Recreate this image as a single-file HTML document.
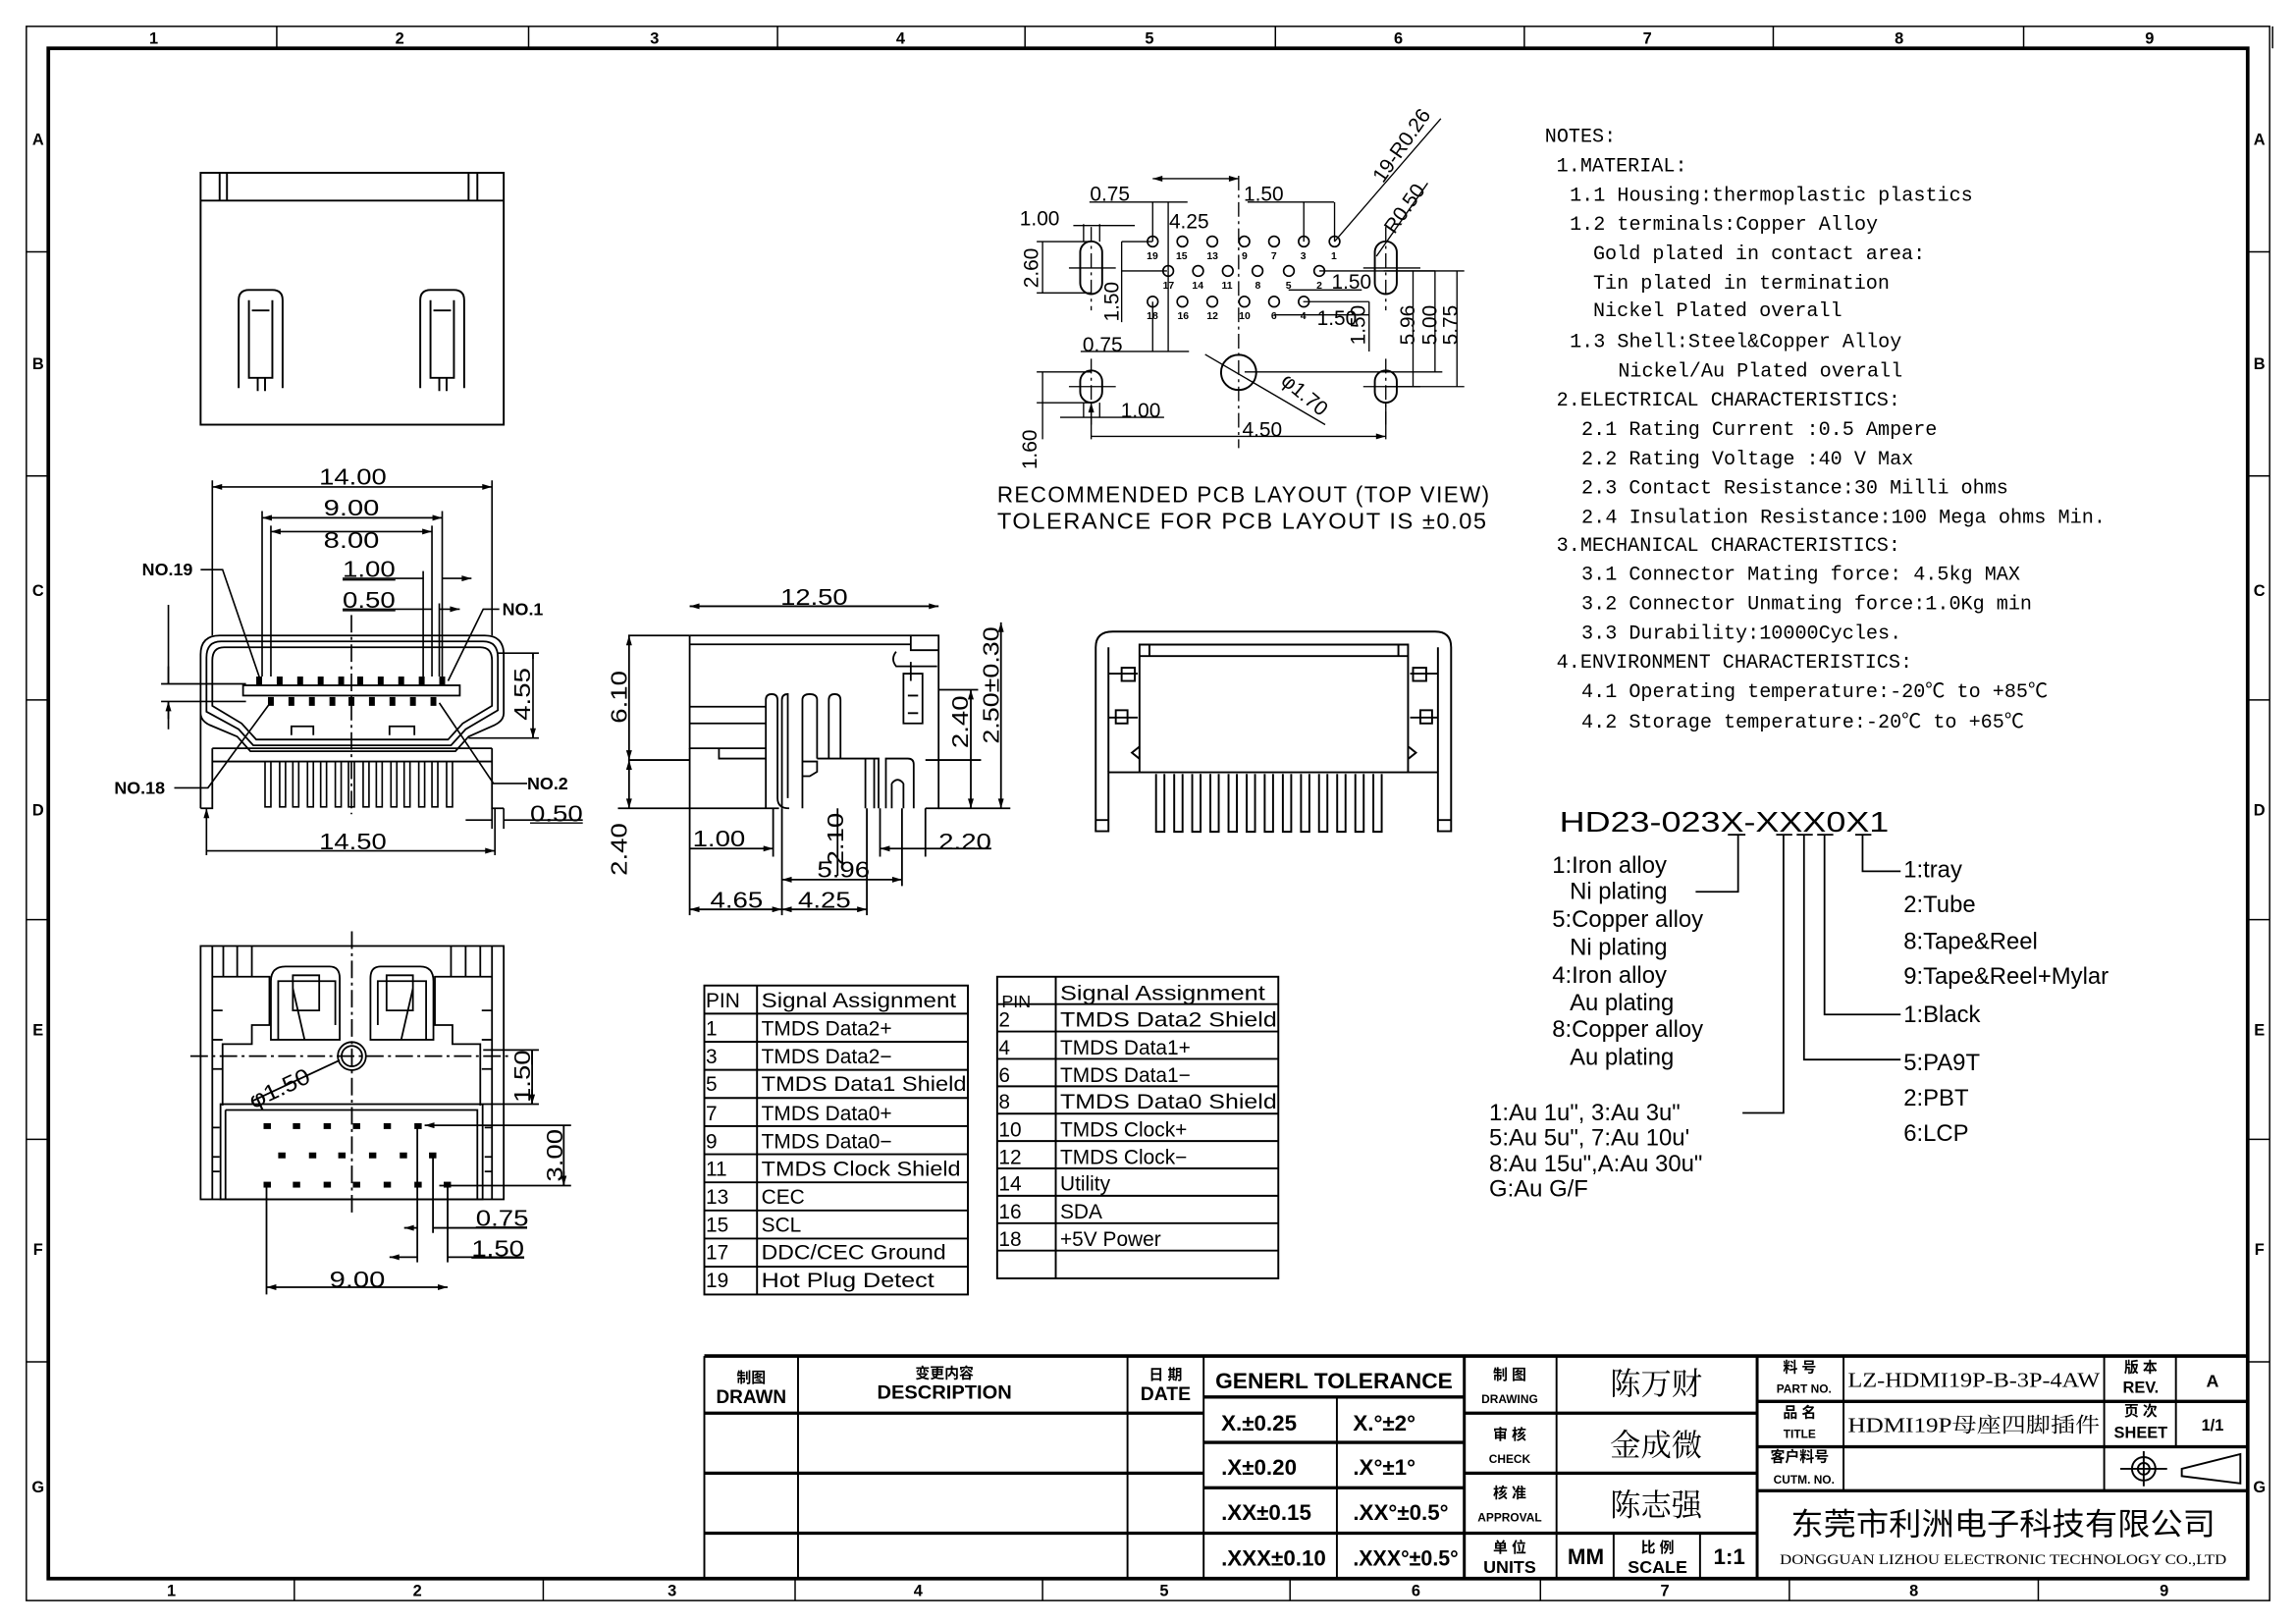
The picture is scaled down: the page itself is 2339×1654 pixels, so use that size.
<!DOCTYPE html>
<html><head><meta charset="utf-8"><style>
html,body{margin:0;padding:0;background:#fff}
svg{display:block}
text{font-family:"Liberation Sans","Noto Sans CJK SC",sans-serif;fill:#000}
.m text{font-family:"Liberation Mono","Noto Sans CJK SC",monospace;font-size:13.5px}
.d{font-size:15.5px}
.t{font-size:14px}
</style></head><body>
<svg width="2339" height="1654" viewBox="0 0 1568 1109" preserveAspectRatio="none" xmlns="http://www.w3.org/2000/svg">
<defs>
<marker id="a" viewBox="0 0 10 6" refX="10" refY="3" markerWidth="8" markerHeight="4" orient="auto-start-reverse" markerUnits="userSpaceOnUse"><path d="M0,0 L10,3 L0,6 z" fill="#000"/></marker>
</defs>
<g fill="none" stroke="#000" stroke-width="1">
<rect x="18" y="18" width="1532" height="1075"/>
<rect x="33" y="33" width="1502" height="1045" stroke-width="2.5"/>
<path d="M189,18V33M361,18V33M531,18V33M700,18V33M871,18V33M1041,18V33M1211,18V33M1382,18V33M1552,18V33"/>
<path d="M201,1078V1093M371,1078V1093M543,1078V1093M712,1078V1093M881,1078V1093M1052,1078V1093M1222,1078V1093M1392,1078V1093"/>
<path d="M18,172H33M18,325H33M18,478H33M18,628H33M18,778H33M18,930H33M1535,172H1550M1535,325H1550M1535,478H1550M1535,628H1550M1535,778H1550M1535,930H1550"/>
</g>
<g font-size="11" font-weight="bold" text-anchor="middle">
<text x="105" y="30">1</text><text x="273" y="30">2</text><text x="447" y="30">3</text><text x="615" y="30">4</text><text x="785" y="30">5</text><text x="955" y="30">6</text><text x="1125" y="30">7</text><text x="1297" y="30">8</text><text x="1468" y="30">9</text>
<text x="117" y="1090">1</text><text x="285" y="1090">2</text><text x="459" y="1090">3</text><text x="627" y="1090">4</text><text x="795" y="1090">5</text><text x="967" y="1090">6</text><text x="1137" y="1090">7</text><text x="1307" y="1090">8</text><text x="1478" y="1090">9</text>
<text x="26" y="99">A</text><text x="26" y="252">B</text><text x="26" y="407">C</text><text x="26" y="557">D</text><text x="26" y="707">E</text><text x="26" y="857">F</text><text x="26" y="1019">G</text>
<text x="1543" y="99">A</text><text x="1543" y="252">B</text><text x="1543" y="407">C</text><text x="1543" y="557">D</text><text x="1543" y="707">E</text><text x="1543" y="857">F</text><text x="1543" y="1019">G</text>
</g>

<!-- TOP VIEW -->
<g fill="none" stroke="#000" stroke-width="1.3">
<rect x="137" y="118" width="207" height="172"/>
<path d="M137,137H344M155,118V137M320,118V137M150,118V137M326,118V137"/>
<path d="M163,265V205Q163,198 170,198H186Q193,198 193,205V265M170,205V258H186V205M172,212H184M176,258V267M181,258V267"/>
<path d="M287,265V205Q287,198 294,198H310Q317,198 317,205V265M294,205V258H310V205M296,212H308M300,258V267M305,258V267"/>
</g>

<!-- FRONT VIEW -->
<g fill="none" stroke="#000" stroke-width="1.2">
<path d="M137,552V447Q137,434 150,434H331Q344,434 344,447V487Q344,492 338,495L320,503L311,513H171L162,503L143,495Q137,492 137,487"/>
<path d="M141,486V449Q141,438 151,438H330Q340,438 340,449V485L318,498L308,509H173L163,498Z"/>
<path d="M145,482V451Q145,442 153,442H328Q336,442 336,451V482L316,494L306,505H175L165,494Z"/>
<path d="M137,552H145V511M344,552H336V511M145,511H336M145,520H336"/>
<rect x="166" y="468" width="148" height="7"/>
<path d="M199,502V496H214V502M266,502V496H283V502"/>
</g>
<g fill="#000">
<rect x="175" y="462" width="4" height="6"/><rect x="189" y="462" width="4" height="6"/><rect x="203" y="462" width="4" height="6"/><rect x="217" y="462" width="4" height="6"/><rect x="231" y="462" width="4" height="6"/><rect x="244" y="462" width="4" height="6"/><rect x="258" y="462" width="4" height="6"/><rect x="272" y="462" width="4" height="6"/><rect x="286" y="462" width="4" height="6"/><rect x="300" y="462" width="4" height="6"/>
<rect x="183" y="476" width="4" height="6"/><rect x="197" y="476" width="4" height="6"/><rect x="211" y="476" width="4" height="6"/><rect x="225" y="476" width="4" height="6"/><rect x="238" y="476" width="4" height="6"/><rect x="252" y="476" width="4" height="6"/><rect x="266" y="476" width="4" height="6"/><rect x="280" y="476" width="4" height="6"/><rect x="294" y="476" width="4" height="6"/>
</g>
<g fill="none" stroke="#000" stroke-width="1.1">
<path d="M181,520V551H185V520M191,520V551H195V520M200,520V551H204V520M210,520V551H214V520M219,520V551H223V520M229,520V551H233V520M238,520V551H242V520M248,520V551H252V520M257,520V551H261V520M267,520V551H271V520M276,520V551H280V520M286,520V551H290V520M295,520V551H299V520M305,520V551H309V520"/>
<path d="M240,420V556" stroke-dasharray="12,3,2,3"/>
<path d="M145,434V328M336,434V328M179,462V349M302,462V349M185,462V359M295,462V359M289,462V390M302,462V390M295,462V412M300,462V412"/>
<path d="M145,332.5H336" marker-start="url(#a)" marker-end="url(#a)"/>
<path d="M179,353.6H302" marker-start="url(#a)" marker-end="url(#a)"/>
<path d="M185,363H295" marker-start="url(#a)" marker-end="url(#a)"/>
<path d="M234,395H289M302,395H322" marker-end="url(#a)"/>
<path d="M234,416H295M300,416H314" marker-end="url(#a)"/>
<path d="M340,446H368M320,504H368M364,446V504" />
<path d="M364,450V446M364,500V504" marker-end="url(#a)"/>
<path d="M110,467H168M110,479H168M115,413V467M115,479V498" />
<path d="M115,455V467M115,491V479" marker-end="url(#a)"/>
<path d="M141,552V584M338,552V584M141,581H338" marker-start="url(#a)" marker-end="url(#a)"/>
<path d="M318,560H336M344,560H398M336,552V566M344,552V566"/>
<path d="M137,389H152L178,465M341,416H330L306,465M119,538H142L186,478M360,535H337L300,480"/>
</g>
<g class="d" text-anchor="middle">
<text x="241" y="331" textLength="46" lengthAdjust="spacingAndGlyphs">14.00</text>
<text x="240" y="352" textLength="38" lengthAdjust="spacingAndGlyphs">9.00</text>
<text x="240" y="374" textLength="38" lengthAdjust="spacingAndGlyphs">8.00</text>
<text x="252" y="394" textLength="36" lengthAdjust="spacingAndGlyphs">1.00</text>
<text x="252" y="415" textLength="36" lengthAdjust="spacingAndGlyphs">0.50</text>
<text x="241" y="580" textLength="46" lengthAdjust="spacingAndGlyphs">14.50</text>
<text x="380" y="561" textLength="36" lengthAdjust="spacingAndGlyphs">0.50</text>
<text transform="translate(362,474) rotate(-90)" textLength="36" lengthAdjust="spacingAndGlyphs">4.55</text>
</g>
<path d="M234,396H270M234,417H270M362,562H398" stroke="#000"/>
<g font-size="12" font-weight="bold">
<text x="97" y="393">NO.19</text><text x="343" y="420">NO.1</text><text x="78" y="542">NO.18</text><text x="360" y="539">NO.2</text>
</g>

<!-- SIDE VIEW -->
<g fill="none" stroke="#000" stroke-width="1.2">
<path d="M471,434H641V552H632M471,434V511H523M471,440H622M622,434V444H641"/>
<path d="M471,482.6H523M471,494H523M491,511V518H523"/>
<path d="M523,552V478Q523,474 527,474Q531,474 531,478V545Q531,552 539,552"/>
<path d="M534,552V478Q534,474 538,474V545M548,552V478Q548,474 553,474Q558,474 558,478V518M566,518V478Q566,474 570,474Q574,474 574,478V518"/>
<path d="M548,520H558V527L553,530H548M558,518H600V552M605,552V518H620Q624,518 624,522V552M591,518V552M597,518V552"/>
<path d="M609,535V552M617,535V552M609,535Q613,530 617,535"/>
<path d="M622,452V465M617,460H630V494H617ZM620,475H627M620,487H627M612,445Q608,450 612,455H640"/>
<path d="M429,434H471M429,519H471M422,552H532M641,471H668M641,552H690M632,519H670"/>
<path d="M471,414H641" marker-start="url(#a)" marker-end="url(#a)"/>
<path d="M429.6,434V519" marker-start="url(#a)" marker-end="url(#a)"/>
<path d="M429.6,519V552" marker-start="url(#a)" marker-end="url(#a)"/>
<path d="M663,471V552" marker-start="url(#a)" marker-end="url(#a)"/>
<path d="M683.6,425V552" marker-start="url(#a)" marker-end="url(#a)"/>
<path d="M471,511V625M534,552V625M592,552V625M528,552V585M616,552V605M601,552V585M632,552V585"/>
<path d="M471,579.5H528" marker-end="url(#a)"/>
<path d="M534,600.7H616" marker-start="url(#a)" marker-end="url(#a)"/>
<path d="M471,621H534" marker-start="url(#a)" marker-end="url(#a)"/>
<path d="M534,621H592" marker-start="url(#a)" marker-end="url(#a)"/>
<path d="M601,579.5H632M632,579.5H677" marker-start="url(#a)"/>
<path d="M572,552V598" />
</g>
<g class="d" text-anchor="middle">
<text x="556" y="413" textLength="46" lengthAdjust="spacingAndGlyphs">12.50</text>
<text x="491" y="578" textLength="36" lengthAdjust="spacingAndGlyphs">1.00</text>
<text x="576" y="599" textLength="36" lengthAdjust="spacingAndGlyphs">5.96</text>
<text x="503" y="620" textLength="36" lengthAdjust="spacingAndGlyphs">4.65</text>
<text x="563" y="620" textLength="36" lengthAdjust="spacingAndGlyphs">4.25</text>
<text x="659" y="580" textLength="36" lengthAdjust="spacingAndGlyphs">2.20</text>
<text transform="translate(428,476) rotate(-90)" textLength="36" lengthAdjust="spacingAndGlyphs">6.10</text>
<text transform="translate(428,580) rotate(-90)" textLength="36" lengthAdjust="spacingAndGlyphs">2.40</text>
<text transform="translate(576,573) rotate(-90)" textLength="36" lengthAdjust="spacingAndGlyphs">2.10</text>
<text transform="translate(661,493) rotate(-90)" textLength="36" lengthAdjust="spacingAndGlyphs">2.40</text>
<text transform="translate(682,468) rotate(-90)" textLength="80" lengthAdjust="spacingAndGlyphs">2.50±0.30</text>
</g>

<!-- BACK VIEW (right) -->
<g fill="none" stroke="#000" stroke-width="1.3">
<path d="M748.3,567.6V442Q748.3,431.3 760,431.3H980Q991,431.3 991,442V567.6H982V527.4H757V567.6Z"/>
<path d="M778.2,527.4V440.2H961.6V527.4M778,448H962M785,440V448M955,440V448"/>
<path d="M757,527V442M982,527V442M757,460H777M757,490H777M963,460H982M963,490H982"/>
<rect x="766" y="456" width="9" height="9"/><rect x="965" y="456" width="9" height="9"/>
<rect x="762" y="485" width="8" height="9"/><rect x="970" y="485" width="8" height="9"/>
<path d="M778,518L773,514L778,510M962,518L967,514L962,510M748,560H757M982,560H991"/>
<path d="M789.5,528.5V568h5.7V528.5M801.9,528.5V568h5.7V528.5M814.2,528.5V568h5.7V528.5M826.6,528.5V568h5.7V528.5M839,528.5V568h5.7V528.5M851.4,528.5V568h5.7V528.5M863.7,528.5V568h5.7V528.5M876.1,528.5V568h5.7V528.5M888.5,528.5V568h5.7V528.5M900.8,528.5V568h5.7V528.5M913.2,528.5V568h5.7V528.5M925.6,528.5V568h5.7V528.5M937.9,528.5V568h5.7V528.5"/>
</g>

<!-- REAR VIEW (bottom-left) -->
<g fill="none" stroke="#000" stroke-width="1.2">
<rect x="137" y="646" width="207" height="173"/>
<path d="M145,646V819M152.5,646V667M162,646V667M172,646V667M308,646V667M318,646V667M328,646V667M336,646V819"/>
<path d="M145,667H184V700H172V713H152V755M336,667H297V700H309V713H328V755"/>
<path d="M145,690H152M145,710H152M145,730H152M145,770H150M145,790H150M145,800H150M336,690H329M336,710H329M336,730H329M336,770H331M336,790H331M336,800H331"/>
<path d="M185,710V670Q185,660 195,660H225Q232,660 232,668V710ZM190,710V670H229V700M253,710V668Q253,660 260,660H287Q296,660 296,670V710ZM258,700V670H291V710"/>
<path d="M200,666H218V690H200ZM264,666H282V690H264Z"/>
<path d="M200,675L208,710M282,675L274,710"/>
<rect x="150.6" y="754" width="179" height="65"/>
<path d="M154,758H326V819M154,758V819"/>
<circle cx="240.3" cy="721.2" r="9.6"/><circle cx="240.3" cy="721.2" r="7"/>
<path d="M240.3,636V830M130,721.2H350" stroke-dasharray="12,3,2,3"/>
<path d="M330,717H368M330,754H368M363.4,717V754" />
<path d="M363.4,727V717M363.4,744V754" marker-end="url(#a)"/>
<path d="M290,768.5H390M300,809.6H390M385,768.5V809.6" marker-start="url(#a)"/>
<path d="M385,800V809.6" marker-end="url(#a)"/>
<path d="M182,809.6V884M295.7,789V842M285,769V862M305.7,809.6V862"/>
<path d="M276,838.5H285M295.7,838.5H360" marker-start="url(#a)"/>
<path d="M266,858.5H285M305.7,858.5H358" marker-start="url(#a)"/>
<path d="M182,879H305.7" marker-start="url(#a)" marker-end="url(#a)"/>
<path d="M172,752L232,724"/>
</g>
<g fill="#000">
<rect x="180" y="767" width="5" height="4"/><rect x="200" y="767" width="5" height="4"/><rect x="221" y="767" width="5" height="4"/><rect x="241" y="767" width="5" height="4"/><rect x="262" y="767" width="5" height="4"/><rect x="283" y="767" width="5" height="4"/>
<rect x="190" y="787" width="5" height="4"/><rect x="211" y="787" width="5" height="4"/><rect x="231" y="787" width="5" height="4"/><rect x="252" y="787" width="5" height="4"/><rect x="273" y="787" width="5" height="4"/><rect x="293" y="787" width="5" height="4"/>
<rect x="180" y="807" width="5" height="4"/><rect x="200" y="807" width="5" height="4"/><rect x="221" y="807" width="5" height="4"/><rect x="241" y="807" width="5" height="4"/><rect x="262" y="807" width="5" height="4"/><rect x="283" y="807" width="5" height="4"/><rect x="303" y="807" width="5" height="4"/>
</g>
<g class="d" text-anchor="middle">
<text x="343" y="837" textLength="36" lengthAdjust="spacingAndGlyphs">0.75</text>
<text x="340" y="858" textLength="36" lengthAdjust="spacingAndGlyphs">1.50</text>
<text x="244" y="879" textLength="38" lengthAdjust="spacingAndGlyphs">9.00</text>
<text transform="translate(362,735) rotate(-90)" textLength="36" lengthAdjust="spacingAndGlyphs">1.50</text>
<text transform="translate(384,789) rotate(-90)" textLength="36" lengthAdjust="spacingAndGlyphs">3.00</text>
<text transform="translate(193,748) rotate(-25)" textLength="44" lengthAdjust="spacingAndGlyphs">φ1.50</text>
</g>
<path d="M325,838H360M322,859H358" stroke="#000"/>

<!-- PCB LAYOUT -->
<g fill="none" stroke="#000" stroke-width="1.3">
<rect x="737.7" y="164.8" width="15" height="36" rx="7.5"/>
<rect x="938.9" y="164.8" width="15" height="36" rx="7.5"/>
<rect x="737.7" y="253" width="15" height="22" rx="7.5"/>
<rect x="938.9" y="253" width="15" height="22" rx="7.5"/>
<circle cx="845.9" cy="254.3" r="12"/>
<g stroke-width="1.1">
<circle cx="787.2" cy="164.9" r="3.6"/><circle cx="807.5" cy="164.9" r="3.6"/><circle cx="827.9" cy="164.9" r="3.6"/><circle cx="849.8" cy="164.9" r="3.6"/><circle cx="870.1" cy="164.9" r="3.6"/><circle cx="890.4" cy="164.9" r="3.6"/><circle cx="911.4" cy="164.9" r="3.6"/>
<circle cx="797.8" cy="185" r="3.6"/><circle cx="818.2" cy="185" r="3.6"/><circle cx="838.5" cy="185" r="3.6"/><circle cx="858.8" cy="185" r="3.6"/><circle cx="880.2" cy="185" r="3.6"/><circle cx="901" cy="185" r="3.6"/>
<circle cx="787.2" cy="206" r="3.6"/><circle cx="807.5" cy="206" r="3.6"/><circle cx="827.9" cy="206" r="3.6"/><circle cx="849.8" cy="206" r="3.6"/><circle cx="870.1" cy="206" r="3.6"/><circle cx="890.4" cy="206" r="3.6"/>
</g>
<path d="M845.9,120V306M745.2,155V212M946.4,155V212M745.2,245V290M946.4,245V290" stroke-dasharray="10,3,2,3" stroke-width="0.9"/>
<path d="M730,183H762M931,183H970M730,264H762M931,264H970" stroke-width="0.9"/>
<path d="M708,165H745M708,200H745M712,165V200" stroke-width="0.9"/>
<path d="M733,154H775M740,153V165M751,153V165" stroke-width="0.9"/>
<path d="M744,138H811M787.2,138V165M797.8,138V185" stroke-width="0.9"/>
<path d="M787.2,122H845.9" marker-start="url(#a)" marker-end="url(#a)" stroke-width="0.9"/>
<path d="M852,138H911M890.4,138V165M911.4,138V165" stroke-width="0.9"/>
<path d="M766,165H787M766,185H797M766,165V220" stroke-width="0.9"/>
<path d="M738,240H812M787.2,206V240M797.8,185V240" stroke-width="0.9"/>
<path d="M880,198H930M901,185H980M890,206H935M870,215H935M935,206V240" stroke-width="0.9"/>
<path d="M945,185H1000M850,254H985M946,264H1000M965,185V264M980,185V254M995,185V264" stroke-width="0.9"/>
<path d="M708,254H745M708,275H745M712,254V300M740,275V285M751,275V285M724,285H795" stroke-width="0.9"/>
<path d="M745.2,275V300M946.4,275V300M745.2,298H946.4" marker-start="url(#a)" marker-end="url(#a)" stroke-width="0.9"/>
<path d="M911.4,164.9L984,81M940,175L975,125M823,242L905,290" stroke-width="0.9"/>
</g>
<g font-size="7" font-weight="bold" text-anchor="middle">
<text x="787" y="177">19</text><text x="807" y="177">15</text><text x="828" y="177">13</text><text x="850" y="177">9</text><text x="870" y="177">7</text><text x="890" y="177">3</text><text x="911" y="177">1</text>
<text x="798" y="197">17</text><text x="818" y="197">14</text><text x="838" y="197">11</text><text x="859" y="197">8</text><text x="880" y="197">5</text><text x="901" y="197">2</text>
<text x="787" y="218">18</text><text x="808" y="218">16</text><text x="828" y="218">12</text><text x="850" y="218">10</text><text x="870" y="218">6</text><text x="890" y="218">4</text>
</g>
<g class="t" text-anchor="middle">
<text x="758" y="137">0.75</text><text x="863" y="137">1.50</text><text x="812" y="156">4.25</text><text x="710" y="154">1.00</text>
<text x="923" y="197">1.50</text><text x="913" y="222">1.50</text><text x="753" y="240">0.75</text><text x="779" y="285">1.00</text><text x="862" y="298">4.50</text>
<text transform="translate(709,183) rotate(-90)">2.60</text>
<text transform="translate(764,206) rotate(-90)">1.50</text>
<text transform="translate(932,222) rotate(-90)">1.50</text>
<text transform="translate(966,222) rotate(-90)">5.96</text>
<text transform="translate(981,222) rotate(-90)">5.00</text>
<text transform="translate(995,222) rotate(-90)">5.75</text>
<text transform="translate(708,307) rotate(-90)">1.60</text>
<text transform="translate(888,273) rotate(40)">φ1.70</text>
<text transform="translate(961,102) rotate(-55)">19-R0.26</text>
<text transform="translate(963,145) rotate(-55)">R0.50</text>
</g>
<g font-size="15.5" letter-spacing="1">
<text x="681" y="343" textLength="337" lengthAdjust="spacingAndGlyphs">RECOMMENDED PCB LAYOUT (TOP VIEW)</text>
<text x="681" y="361" textLength="335" lengthAdjust="spacingAndGlyphs">TOLERANCE FOR PCB LAYOUT IS ±0.05</text>
</g>

<!-- NOTES -->
<g class="m">
<text x="1055" y="97">NOTES:</text>
<text x="1063" y="117">1.MATERIAL:</text>
<text x="1072" y="137">1.1 Housing:thermoplastic plastics</text>
<text x="1072" y="157">1.2 terminals:Copper Alloy</text>
<text x="1088" y="177">Gold plated in contact area:</text>
<text x="1088" y="197">Tin plated in termination</text>
<text x="1088" y="216">Nickel Plated overall</text>
<text x="1072" y="237">1.3 Shell:Steel&amp;Copper Alloy</text>
<text x="1105" y="257">Nickel/Au Plated overall</text>
<text x="1063" y="277">2.ELECTRICAL CHARACTERISTICS:</text>
<text x="1080" y="297">2.1 Rating Current :0.5 Ampere</text>
<text x="1080" y="317">2.2 Rating Voltage :40 V Max</text>
<text x="1080" y="337">2.3 Contact Resistance:30 Milli ohms</text>
<text x="1080" y="357" textLength="358" lengthAdjust="spacingAndGlyphs">2.4 Insulation Resistance:100 Mega ohms Min.</text>
<text x="1063" y="376">3.MECHANICAL CHARACTERISTICS:</text>
<text x="1080" y="396">3.1 Connector Mating force: 4.5kg MAX</text>
<text x="1080" y="416">3.2 Connector Unmating force:1.0Kg min</text>
<text x="1080" y="436">3.3 Durability:10000Cycles.</text>
<text x="1063" y="456">4.ENVIRONMENT CHARACTERISTICS:</text>
<text x="1080" y="476">4.1 Operating temperature:-20℃ to +85℃</text>
<text x="1080" y="497">4.2 Storage temperature:-20℃ to +65℃</text>
</g>

<!-- PART NUMBER -->
<text x="1065" y="568" font-size="19" textLength="225" lengthAdjust="spacingAndGlyphs">HD23-023X-XXX0X1</text>
<g fill="none" stroke="#000" stroke-width="1.2">
<path d="M1180,570H1192M1213,570H1224M1227,570H1238M1241,570H1252M1267,570H1278"/>
<path d="M1187,570V609H1158M1218,570V760H1190M1232,570V723.6H1298M1246,570V692.8H1298M1272,570V595H1298"/>
</g>
<g font-size="16">
<text x="1060" y="596">1:Iron alloy</text><text x="1072" y="614">Ni plating</text>
<text x="1060" y="633">5:Copper alloy</text><text x="1072" y="652">Ni plating</text>
<text x="1060" y="671">4:Iron alloy</text><text x="1072" y="690">Au plating</text>
<text x="1060" y="708">8:Copper alloy</text><text x="1072" y="727">Au plating</text>
<text x="1017" y="765">1:Au 1u", 3:Au 3u"</text>
<text x="1017" y="782">5:Au 5u", 7:Au 10u'</text>
<text x="1017" y="800">8:Au 15u",A:Au 30u"</text>
<text x="1017" y="817">G:Au G/F</text>
<text x="1300" y="599">1:tray</text><text x="1300" y="623">2:Tube</text><text x="1300" y="648">8:Tape&amp;Reel</text><text x="1300" y="672">9:Tape&amp;Reel+Mylar</text>
<text x="1300" y="698">1:Black</text><text x="1300" y="731">5:PA9T</text><text x="1300" y="755">2:PBT</text><text x="1300" y="779">6:LCP</text>
</g>

<!-- TABLES -->
<g fill="none" stroke="#000" stroke-width="1.3">
<rect x="481" y="673" width="180" height="211"/>
<path d="M517,673V884M481,692.2H661M481,711.4H661M481,730.6H661M481,749.8H661M481,769H661M481,788.2H661M481,807.4H661M481,826.6H661M481,845.8H661M481,865H661"/>
<rect x="681" y="667" width="192" height="206"/>
<path d="M721,667V873M681,685.7H873M681,704.4H873M681,723.1H873M681,741.8H873M681,760.5H873M681,779.2H873M681,797.9H873M681,816.6H873M681,835.3H873M681,854H873"/>
</g>
<g font-size="14">
<text x="482" y="688">PIN</text><text x="520" y="688" textLength="133" lengthAdjust="spacingAndGlyphs">Signal Assignment</text>
<text x="482" y="707">1</text><text x="520" y="707">TMDS Data2+</text>
<text x="482" y="726">3</text><text x="520" y="726">TMDS Data2−</text>
<text x="482" y="745">5</text><text x="520" y="745" textLength="140" lengthAdjust="spacingAndGlyphs">TMDS Data1 Shield</text>
<text x="482" y="765">7</text><text x="520" y="765">TMDS Data0+</text>
<text x="482" y="784">9</text><text x="520" y="784">TMDS Data0−</text>
<text x="482" y="803">11</text><text x="520" y="803" textLength="136" lengthAdjust="spacingAndGlyphs">TMDS Clock Shield</text>
<text x="482" y="822">13</text><text x="520" y="822">CEC</text>
<text x="482" y="841">15</text><text x="520" y="841">SCL</text>
<text x="482" y="860">17</text><text x="520" y="860" textLength="126" lengthAdjust="spacingAndGlyphs">DDC/CEC Ground</text>
<text x="482" y="879">19</text><text x="520" y="879" textLength="118" lengthAdjust="spacingAndGlyphs">Hot Plug Detect</text>
<text x="684" y="688" font-size="12">PIN</text><text x="724" y="683" textLength="140" lengthAdjust="spacingAndGlyphs">Signal Assignment</text>
<text x="682" y="701">2</text><text x="724" y="701" textLength="148" lengthAdjust="spacingAndGlyphs">TMDS Data2 Shield</text>
<text x="682" y="720">4</text><text x="724" y="720">TMDS Data1+</text>
<text x="682" y="739">6</text><text x="724" y="739">TMDS Data1−</text>
<text x="682" y="757">8</text><text x="724" y="757" textLength="148" lengthAdjust="spacingAndGlyphs">TMDS Data0 Shield</text>
<text x="682" y="776">10</text><text x="724" y="776">TMDS Clock+</text>
<text x="682" y="795">12</text><text x="724" y="795">TMDS Clock−</text>
<text x="682" y="813">14</text><text x="724" y="813">Utility</text>
<text x="682" y="832">16</text><text x="724" y="832">SDA</text>
<text x="682" y="851">18</text><text x="724" y="851">+5V Power</text>
</g>

<!-- TITLE BLOCK -->
<g fill="none" stroke="#000" stroke-width="1.3">
<path d="M481,926H1535" stroke-width="2.5"/>
<path d="M481,926V1078M545,926V1078M770,926V1078M822,926V1078M1000,926V1078M1200,926V1078M1259,926V1018M1437,926V1018M1486,926V988M913,954V1078M1063,926V1078M1102,1047V1078M1161,1047V1078"/>
<path d="M481,965H822M481,1006H822M481,1047H822" stroke-width="2.2"/>
<path d="M822,954H1000M822,985H1000M822,1016H1000M822,1047H1000" stroke-width="2.2"/>
<path d="M1000,965H1200M1000,1006H1200M1000,1047H1200" stroke-width="2.2"/>
<path d="M1200,957H1535M1200,988H1535M1200,1018H1535" stroke-width="2.2"/>
<path d="M1000,926V1078M1200,926V1078" stroke-width="2"/>
<circle cx="1464" cy="1003" r="8"/><circle cx="1464" cy="1003" r="4"/>
<path d="M1448,1003H1480M1464,991V1015M1490,1003L1530,993V1013L1490,1008Z"/>
</g>
<g text-anchor="middle" font-weight="bold">
<text x="513" y="944" font-size="10">制图</text><text x="513" y="958" font-size="13" textLength="48" lengthAdjust="spacingAndGlyphs">DRAWN</text>
<text x="645" y="941" font-size="10">变更内容</text><text x="645" y="955" font-size="13" textLength="92" lengthAdjust="spacingAndGlyphs">DESCRIPTION</text>
<text x="796" y="942" font-size="10">日 期</text><text x="796" y="956" font-size="13">DATE</text>
<text x="911" y="948" font-size="15" textLength="162" lengthAdjust="spacingAndGlyphs">GENERL TOLERANCE</text>
<text x="1031" y="942" font-size="10">制 图</text><text x="1031" y="958" font-size="8">DRAWING</text>
<text x="1031" y="983" font-size="10">审 核</text><text x="1031" y="999" font-size="8">CHECK</text>
<text x="1031" y="1023" font-size="10">核 准</text><text x="1031" y="1039" font-size="8">APPROVAL</text>
<text x="1031" y="1060" font-size="10">单 位</text><text x="1031" y="1074" font-size="12">UNITS</text>
<text x="1083" y="1068" font-size="15">MM</text>
<text x="1132" y="1060" font-size="10">比 例</text><text x="1132" y="1074" font-size="12">SCALE</text>
<text x="1181" y="1068" font-size="15">1:1</text>
<text x="1229" y="937" font-size="10">料 号</text><text x="1232" y="951" font-size="8">PART NO.</text>
<text x="1229" y="968" font-size="10">品 名</text><text x="1229" y="982" font-size="8">TITLE</text>
<text x="1229" y="998" font-size="10">客户料号</text><text x="1232" y="1013" font-size="8">CUTM. NO.</text>
<text x="1462" y="937" font-size="10">版 本</text><text x="1462" y="951" font-size="11">REV.</text>
<text x="1462" y="967" font-size="10">页 次</text><text x="1462" y="982" font-size="11">SHEET</text>
<text x="1511" y="947" font-size="12">A</text><text x="1511" y="977" font-size="11">1/1</text>
</g>
<g font-size="15" font-weight="bold">
<text x="834" y="977">X.±0.25</text><text x="924" y="977">X.°±2°</text>
<text x="834" y="1007">.X±0.20</text><text x="924" y="1007">.X°±1°</text>
<text x="834" y="1038">.XX±0.15</text><text x="924" y="1038">.XX°±0.5°</text>
<text x="834" y="1069">.XXX±0.10</text><text x="924" y="1069" textLength="72" lengthAdjust="spacingAndGlyphs">.XXX°±0.5°</text>
</g>
<g text-anchor="middle" fill="#444">
<text x="1131" y="952" font-size="21" style="font-family:'Noto Serif CJK SC',serif">陈万财</text>
<text x="1131" y="994" font-size="21" style="font-family:'Noto Serif CJK SC',serif">金成微</text>
<text x="1131" y="1035" font-size="21" style="font-family:'Noto Serif CJK SC',serif">陈志强</text>
<text x="1348" y="947" font-size="14" style="font-family:'Liberation Serif',serif" textLength="172" lengthAdjust="spacingAndGlyphs">LZ-HDMI19P-B-3P-4AW</text>
<text x="1348" y="978" font-size="14" style="font-family:'Liberation Serif','Noto Serif CJK SC',serif" textLength="172" lengthAdjust="spacingAndGlyphs">HDMI19P母座四脚插件</text>
<text x="1368" y="1048" font-size="21" style="font-family:'Noto Sans CJK SC',sans-serif" textLength="290" lengthAdjust="spacingAndGlyphs">东莞市利洲电子科技有限公司</text>
<text x="1368" y="1068" font-size="10" style="font-family:'Liberation Serif',serif" textLength="305" lengthAdjust="spacingAndGlyphs">DONGGUAN LIZHOU ELECTRONIC TECHNOLOGY CO.,LTD</text>
</g>
</svg>
</body></html>
